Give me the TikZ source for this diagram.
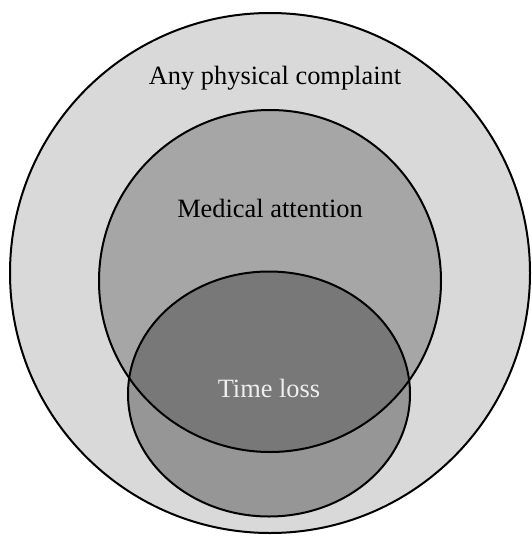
\documentclass[tikz,border=0pt]{standalone}
\usepackage{fontspec}
\setmainfont{Liberation Serif}
\begin{document}
\begin{tikzpicture}[x=1pt,y=-1pt,
  ring/.style={draw=black, line width=2pt},
  label/.style={font=\fontsize{26.4}{30}\selectfont, inner sep=0pt}]
\definecolor{outerfill}{RGB}{217,217,217}
\definecolor{medfill}{RGB}{166,166,166}
\definecolor{timefill}{RGB}{150,150,150}
\definecolor{bothfill}{RGB}{120,120,120}
\definecolor{lighttext}{RGB}{238,238,238}
\useasboundingbox (0,0) rectangle (531,538);
% set fills
\fill[outerfill] (270,273) circle (260);
\fill[medfill] (270,281) circle (171);
\fill[timefill] (269,394) ellipse (141 and 122.5);
\begin{scope}
  \clip (270,281) circle (171);
  \fill[bothfill] (269,394) ellipse (141 and 122.5);
\end{scope}
% outlines
\draw[ring] (270,273) circle (260);
\draw[ring] (270,281) circle (171);
\draw[ring] (269,394) ellipse (141 and 122.5);
% labels
\node[label] (any) at (275,78) {Any physical complaint};
\node[label] (med) at (270,208) {Medical attention};
\node[label, text=lighttext] (time) at (269,388) {Time loss};
\end{tikzpicture}
\end{document}
